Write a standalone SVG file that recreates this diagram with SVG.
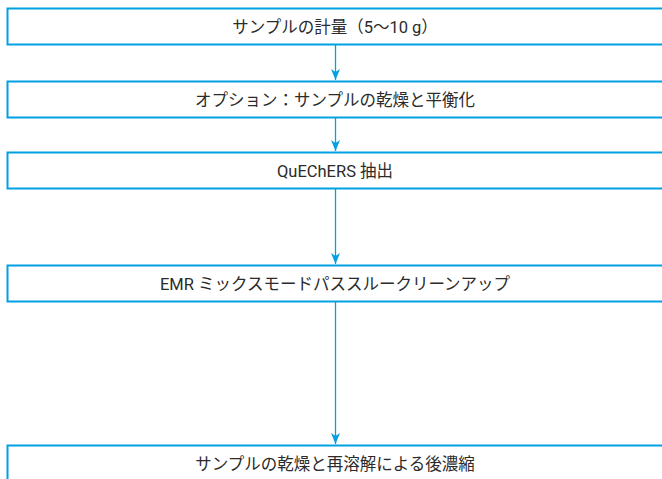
<svg xmlns="http://www.w3.org/2000/svg" width="662" height="479" viewBox="0 0 662 479">
<style>
.box{fill:#fff;stroke:#00a0e2;stroke-width:2}
.lbl{font-family:"Roboto","Noto Sans CJK JP",sans-serif;font-size:16.5px;fill:#2b2b2b;text-anchor:middle;dominant-baseline:central}
.conn{stroke:#00a0e2;stroke-width:1.3;fill:none}
.head{fill:#00a0e2}
</style>
<rect width="662" height="479" fill="#fff"/>
<g id="connectors">
<line class="conn" x1="335.5" y1="45" x2="335.5" y2="80"/>
<path class="head" d="M331,69 L335.5,72 L340,69 L335.5,80 Z"/>
<line class="conn" x1="335.5" y1="118" x2="335.5" y2="151"/>
<path class="head" d="M331,140 L335.5,143 L340,140 L335.5,151 Z"/>
<line class="conn" x1="335.5" y1="189" x2="335.5" y2="264"/>
<path class="head" d="M331,253 L335.5,256 L340,253 L335.5,264 Z"/>
<line class="conn" x1="335.5" y1="302" x2="335.5" y2="444"/>
<path class="head" d="M331,433 L335.5,436 L340,433 L335.5,444 Z"/>
</g>
<g id="n1"><rect class="box" x="7.5" y="8.5" width="670" height="36"/><text class="lbl" x="335" y="27">サンプルの計量（5〜10 g）</text></g>
<g id="n2"><rect class="box" x="7.5" y="81.5" width="670" height="36"/><text class="lbl" x="335" y="100">オプション：サンプルの乾燥と平衡化</text></g>
<g id="n3"><rect class="box" x="7.5" y="152.5" width="670" height="36"/><text class="lbl" x="335" y="171">QuEChERS 抽出</text></g>
<g id="n4"><rect class="box" x="7.5" y="265.5" width="670" height="36"/><text class="lbl" x="335" y="284">EMR ミックスモードパススルークリーンアップ</text></g>
<g id="n5"><rect class="box" x="7.5" y="445.5" width="670" height="40"/><text class="lbl" x="335" y="464">サンプルの乾燥と再溶解による後濃縮</text></g>
</svg>
